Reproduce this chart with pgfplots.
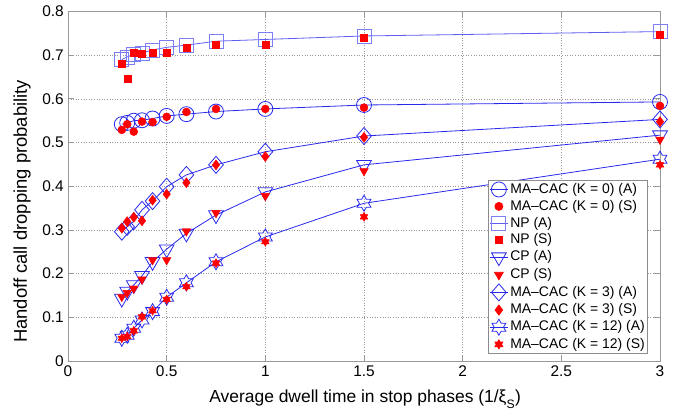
\documentclass[border=0pt]{standalone}
\usepackage{fontspec}
\setmainfont{Liberation Sans}
\usepackage{pgfplots}
\pgfplotsset{compat=1.18}
\usepackage{pgfplotstable}
\definecolor{matblue}{rgb}{0.16,0.16,0.93}
\definecolor{matred}{rgb}{1,0,0}
\pgfdeclareplotmark{hexagram}{%
  \pgfpathmoveto{\pgfpointpolar{90}{\pgfplotmarksize}}%
  \pgfpathlineto{\pgfpointpolar{120}{0.5774\pgfplotmarksize}}%
  \pgfpathlineto{\pgfpointpolar{150}{\pgfplotmarksize}}%
  \pgfpathlineto{\pgfpointpolar{180}{0.5774\pgfplotmarksize}}%
  \pgfpathlineto{\pgfpointpolar{210}{\pgfplotmarksize}}%
  \pgfpathlineto{\pgfpointpolar{240}{0.5774\pgfplotmarksize}}%
  \pgfpathlineto{\pgfpointpolar{270}{\pgfplotmarksize}}%
  \pgfpathlineto{\pgfpointpolar{300}{0.5774\pgfplotmarksize}}%
  \pgfpathlineto{\pgfpointpolar{330}{\pgfplotmarksize}}%
  \pgfpathlineto{\pgfpointpolar{0}{0.5774\pgfplotmarksize}}%
  \pgfpathlineto{\pgfpointpolar{30}{\pgfplotmarksize}}%
  \pgfpathlineto{\pgfpointpolar{60}{0.5774\pgfplotmarksize}}%
  \pgfpathclose
  \pgfusepathqstroke
}
\pgfdeclareplotmark{hexagram*}{%
  \pgfpathmoveto{\pgfpointpolar{90}{\pgfplotmarksize}}%
  \pgfpathlineto{\pgfpointpolar{120}{0.5774\pgfplotmarksize}}%
  \pgfpathlineto{\pgfpointpolar{150}{\pgfplotmarksize}}%
  \pgfpathlineto{\pgfpointpolar{180}{0.5774\pgfplotmarksize}}%
  \pgfpathlineto{\pgfpointpolar{210}{\pgfplotmarksize}}%
  \pgfpathlineto{\pgfpointpolar{240}{0.5774\pgfplotmarksize}}%
  \pgfpathlineto{\pgfpointpolar{270}{\pgfplotmarksize}}%
  \pgfpathlineto{\pgfpointpolar{300}{0.5774\pgfplotmarksize}}%
  \pgfpathlineto{\pgfpointpolar{330}{\pgfplotmarksize}}%
  \pgfpathlineto{\pgfpointpolar{0}{0.5774\pgfplotmarksize}}%
  \pgfpathlineto{\pgfpointpolar{30}{\pgfplotmarksize}}%
  \pgfpathlineto{\pgfpointpolar{60}{0.5774\pgfplotmarksize}}%
  \pgfpathclose
  \pgfusepathqfillstroke
}
\pgfplotstableread{
x      kzA    kzS    npA    npS    cpA    cpS    k3A    k3S    k12A   k12S
0.2727 0.542  0.529  0.690  0.681  0.143  0.147  0.296  0.304  0.052  0.052
0.3    0.545  0.542  0.696  0.647  0.159  0.156  0.307  0.319  0.059  0.056
0.3333 0.550  0.525  0.702  0.705  0.174  0.166  0.320  0.329  0.075  0.069
0.375  0.551  0.548  0.705  0.704  0.195  0.187  0.346  0.321  0.094  0.101
0.4286 0.555  0.547  0.712  0.705  0.227  0.231  0.366  0.368  0.113  0.115
0.5    0.561  0.559  0.718  0.705  0.256  0.231  0.399  0.382  0.146  0.141
0.6    0.565  0.570  0.723  0.718  0.292  0.297  0.426  0.408  0.179  0.170
0.75   0.571  0.577  0.732  0.724  0.334  0.339  0.449  0.449  0.227  0.224
1      0.577  0.577  0.736  0.725  0.387  0.378  0.479  0.468  0.284  0.273
1.5    0.586  0.580  0.744  0.741  0.449  0.435  0.515  0.512  0.361  0.330
3      0.593  0.584  0.754  0.748  0.517  0.507  0.553  0.548  0.462  0.449
}\data
\begin{document}
\begin{tikzpicture}
\begin{axis}[
  at={(0,0)}, anchor=south west,
  scale only axis, width=592bp, height=349.5bp,
  xmin=0, xmax=3, ymin=0, ymax=0.8,
  xtick={0,0.5,1,1.5,2,2.5,3},
  xticklabels={0,0.5,1,1.5,2,2.5,3},
  ytick={0,0.1,0.2,0.3,0.4,0.5,0.6,0.7,0.8},
  yticklabels={0,0.1,0.2,0.3,0.4,0.5,0.6,0.7,0.8},
  tick label style={font=\fontsize{15.5}{17}\selectfont},
  xticklabel style={inner sep=0pt, yshift=-4.5bp},
  yticklabel style={inner sep=0pt, xshift=-4bp},
  tick align=inside, major tick length=6bp,
  axis line style={draw=black!40, line width=0.9bp},
  every tick/.style={draw=black!40, line width=0.8bp},
  grid=major,
  grid style={draw=black!40, line width=0.6bp, dash pattern=on 1bp off 1.6bp},
  xlabel={Average dwell time in stop phases (1/ξ\textsubscript{\raisebox{-0.45ex}{S}})},
  ylabel={Handoff call dropping probability},
  xlabel style={font=\fontsize{17.5}{19}\selectfont, at={(axis description cs:0.502,0)}, anchor=north, inner sep=0pt, yshift=-29bp},
  ylabel style={font=\fontsize{18.5}{20}\selectfont, at={(axis description cs:-0.0777,0.428)}, anchor=center, inner sep=0pt, rotate=0},
  legend style={at={(0.98,0.02)}, anchor=south east, draw=black!45, line width=0.8bp, fill=white,
    font=\fontsize{14}{16}\selectfont, inner xsep=1bp, inner ysep=1.5bp, row sep=1.4bp,
    nodes={inner xsep=2bp, inner ysep=1bp, text height=10.5bp, text depth=3bp}},
  legend cell align=left,
  legend image code/.code={\draw[mark repeat=2,mark phase=2,#1] plot coordinates {(0bp,0bp) (9bp,0bp) (18bp,0bp)};},
]
\addplot[matblue, line width=0.8bp, mark=o, mark size=7.5bp, mark options={solid}] table[x=x,y=kzA] {\data};
\addlegendentry{MA\textendash CAC (K = 0) (A)}
\addplot[only marks, draw=matred, fill=matred, mark=*, mark size=4bp] table[x=x,y=kzS] {\data};
\addlegendentry{MA\textendash CAC (K = 0) (S)}
\addplot[matblue!75, line width=0.8bp, mark=square, mark size=7bp, mark options={solid, draw=matblue!60}] table[x=x,y=npA] {\data};
\addlegendentry{NP (A)}
\addplot[only marks, draw=matred, fill=matred, mark=square*, mark size=3.5bp] table[x=x,y=npS] {\data};
\addlegendentry{NP (S)}
\addplot[matblue, line width=0.8bp, mark=triangle, mark size=8.5bp, mark options={solid, rotate=180}] table[x=x,y=cpA] {\data};
\addlegendentry{CP (A)}
\addplot[only marks, draw=matred, fill=matred, mark=triangle*, mark size=5bp, mark options={rotate=180}] table[x=x,y=cpS] {\data};
\addlegendentry{CP (S)}
\addplot[matblue, line width=0.8bp, mark=diamond, mark size=8.5bp, mark options={solid, xscale=1.15}] table[x=x,y=k3A] {\data};
\addlegendentry{MA\textendash CAC (K = 3) (A)}
\addplot[only marks, draw=matred, fill=matred, mark=diamond*, mark size=5bp] table[x=x,y=k3S] {\data};
\addlegendentry{MA\textendash CAC (K = 3) (S)}
\addplot[matblue, line width=0.8bp, mark=hexagram, mark size=8bp, mark options={solid}] table[x=x,y=k12A] {\data};
\addlegendentry{MA\textendash CAC (K = 12) (A)}
\addplot[only marks, draw=matred, fill=matred, mark=hexagram*, mark size=4.5bp] table[x=x,y=k12S] {\data};
\addlegendentry{MA\textendash CAC (K = 12) (S)}
\end{axis}
\path (-68bp,-56bp) rectangle (613bp,361bp);
\end{tikzpicture}
\end{document}
